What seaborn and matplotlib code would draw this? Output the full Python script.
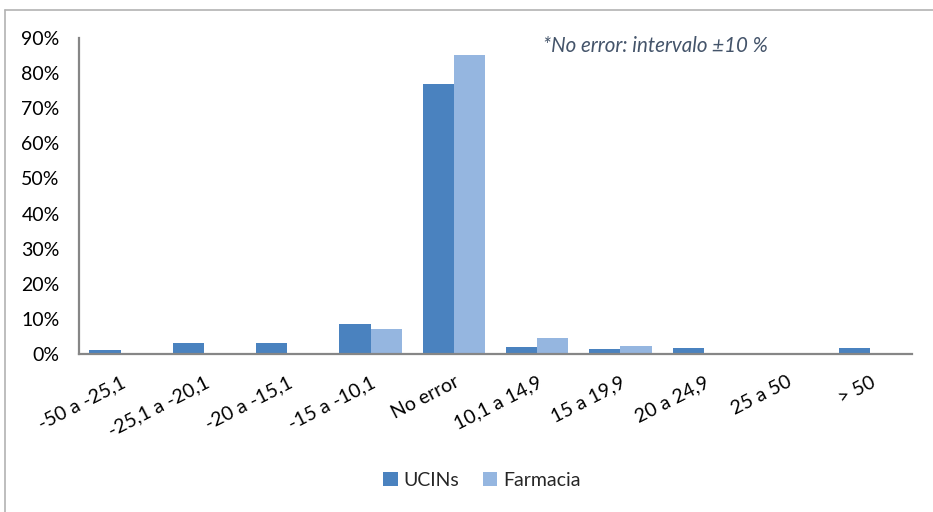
import numpy as np
import pandas as pd
import matplotlib
matplotlib.use("Agg")
import matplotlib.pyplot as plt
from matplotlib.lines import Line2D
from matplotlib.ticker import FuncFormatter
import seaborn as sns

categories = ["-50 a -25,1", "-25,1 a -20,1", "-20 a -15,1", "-15 a -10,1", "No error",
              "10,1 a 14,9", "15 a 19,9", "20 a 24,9", "25 a 50", "> 50"]
ucins = [1.1, 3.0, 3.0, 8.5, 76.9, 2.0, 1.3, 1.6, 0.4, 1.6]
farmacia = [0.0, 0.0, 0.0, 7.1, 85.2, 4.6, 2.3, 0.0, 0.0, 0.0]
series_names = ["UCINs", "Farmacia"]
y_ticks = [0, 10, 20, 30, 40, 50, 60, 70, 80, 90]
note = "*No error: intervalo \u00b110 %"

sns.set_theme(style="white")
plt.rcParams["font.family"] = ["Lato", "DejaVu Sans"]

df = pd.DataFrame({
    "categoria": categories * 2,
    "serie": [series_names[0]] * len(categories) + [series_names[1]] * len(categories),
    "valor": ucins + farmacia,
})

palette = {"UCINs": "#4a82bf", "Farmacia": "#95b6e0"}

fig = plt.figure(figsize=(9.33, 5.12), dpi=100)
ax = fig.add_axes([0.0847, 0.3086, 0.8928, 0.6172])

sns.barplot(data=df, x="categoria", y="valor", hue="serie", order=categories,
            hue_order=series_names, palette=palette, width=0.75, saturation=1,
            edgecolor="none", ax=ax, legend=True)

ax.set_ylim(0, 90)
ax.set_yticks(y_ticks)
ax.yaxis.set_major_formatter(FuncFormatter(lambda v, p: f"{v:.0f}%"))
ax.set_xlim(-0.5, len(categories) - 0.5)
ax.set_xlabel("")
ax.set_ylabel("")
ax.tick_params(axis="both", length=0, labelsize=14, colors="#000000")
ax.tick_params(axis="y", pad=14)
ax.tick_params(axis="x", pad=14)
for lbl in ax.get_xticklabels():
    lbl.set_rotation(27)
    lbl.set_ha("right")
    lbl.set_rotation_mode("anchor")

for side in ["top", "right"]:
    ax.spines[side].set_visible(False)
for side in ["left", "bottom"]:
    ax.spines[side].set_color("#868686")
    ax.spines[side].set_linewidth(1.6)

ax.text((543 - 79) / 833, 0.975, note, transform=ax.transAxes, fontsize=14.8,
        style="italic", color="#44546a", ha="left", va="center")

handles, labels = ax.get_legend_handles_labels()
ax.legend(handles, labels, loc="center", bbox_to_anchor=((482 - 79) / 833, (1 - 480 / 512 - 0.3086) / 0.6172),
          ncol=2, frameon=False, fontsize=14, handlelength=0.75, handleheight=0.75,
          handletextpad=0.3, columnspacing=1.2)

# chart area border
fig.add_artist(Line2D([5 / 933, 5 / 933], [0, 1 - 10 / 512], transform=fig.transFigure,
                      color="#b3b3b3", lw=1.2))
fig.add_artist(Line2D([5 / 933, 1], [1 - 10 / 512, 1 - 10 / 512], transform=fig.transFigure,
                      color="#b3b3b3", lw=1.2))

fig.savefig("out.png", dpi=100, facecolor="white")
